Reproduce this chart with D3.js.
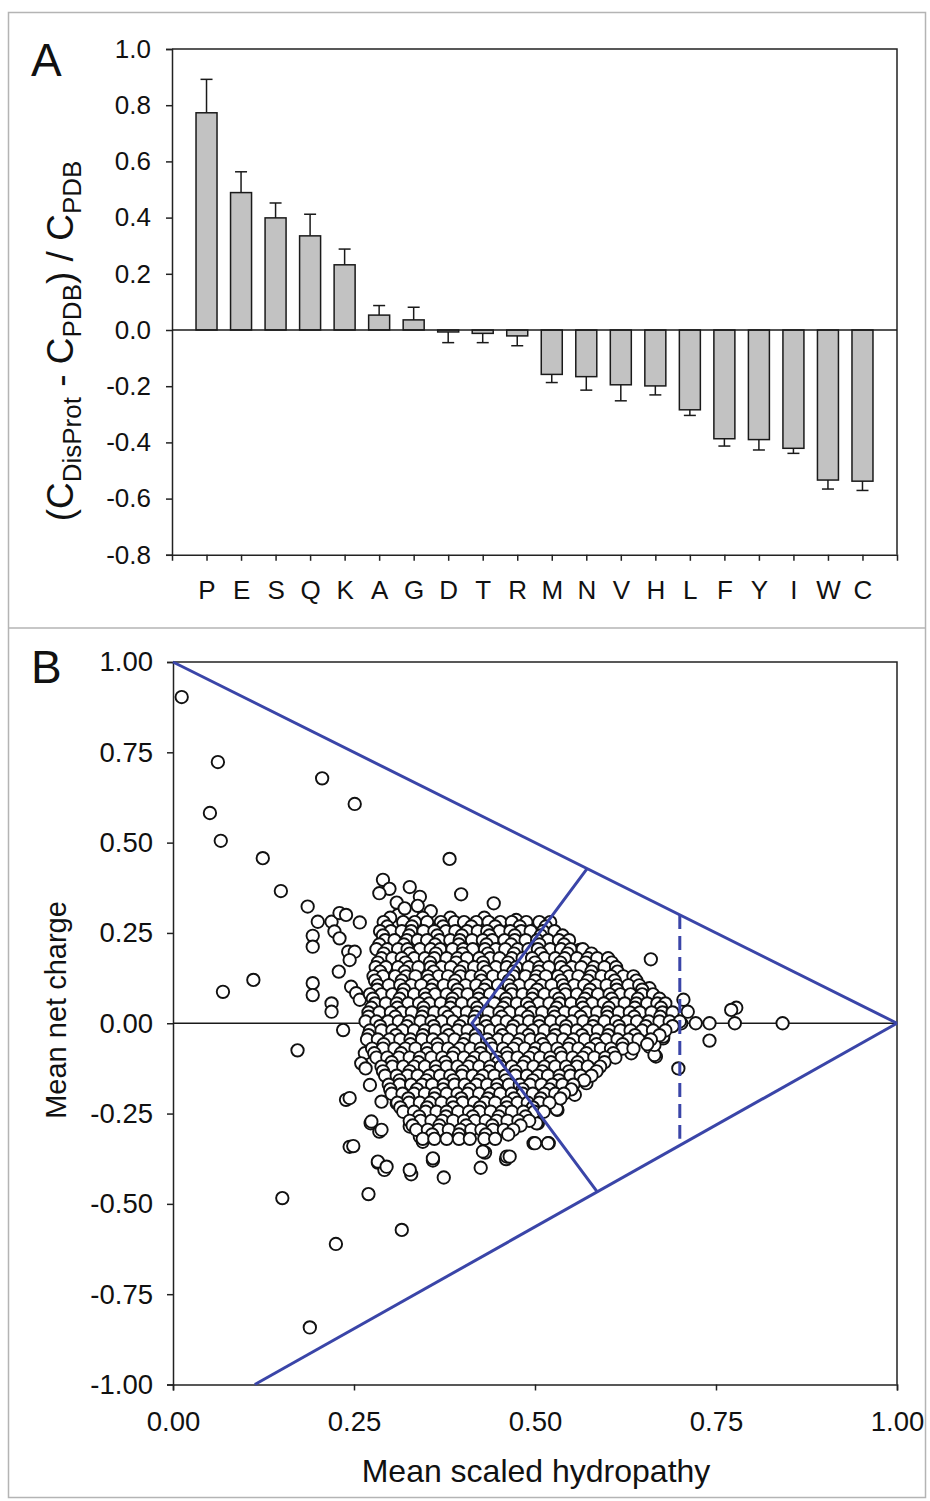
<!DOCTYPE html>
<html>
<head>
<meta charset="utf-8">
<script src="https://cdn.jsdelivr.net/npm/d3@7"></script>
<style>
  body { margin: 0; background: #fff; }
  svg text { font-family: "Liberation Sans", Arial, sans-serif; fill: #111; }
  .axis path, .axis line { stroke: #222; stroke-width: 1.5; }
  .axis text { font-size: 26px; }
  .axisB text { font-size: 27.5px; }
</style>
</head>
<body>
<svg id="fig" width="930" height="1501"></svg>
<script>
// ---- panel A data (amino acids, sorted by disorder propensity)
const residues = ["P","E","S","Q","K","A","G","D","T","R","M","N","V","H","L","F","Y","I","W","C"];
const propensity = [0.773, 0.489, 0.399, 0.335, 0.232, 0.053, 0.036, -0.007, -0.012, -0.021,
  -0.158, -0.166, -0.195, -0.199, -0.284, -0.387, -0.390, -0.421, -0.534, -0.538];
// end of the (one sided) error bar
const errorEnd = [0.892, 0.563, 0.452, 0.412, 0.288, 0.087, 0.081, -0.045, -0.045, -0.056,
  -0.187, -0.214, -0.252, -0.231, -0.304, -0.413, -0.427, -0.439, -0.566, -0.571];
const aTicks = [-0.8, -0.6, -0.4, -0.2, 0, 0.2, 0.4, 0.6, 0.8, 1.0];
const aTickLabels = ["-0.8", "-0.6", "-0.4", "-0.2", "0.0", "0.2", "0.4", "0.6", "0.8", "1.0"];

// ---- panel B data (charge-hydropathy plot), [hydropathy, net charge]
const scatterOutliers = [
  [0.012,0.903],[0.062,0.723],[0.051,0.582],[0.066,0.505],[0.206,0.678],[0.251,0.607],[0.124,0.457],
  [0.149,0.366],[0.382,0.455],[0.398,0.357],[0.186,0.323],[0.069,0.087],[0.111,0.12],[0.235,-0.019],
  [0.172,-0.075],[0.193,0.242],[0.193,0.212],[0.193,0.111],[0.193,0.078],[0.200,0.281],[0.219,0.281],
  [0.223,0.254],[0.230,0.235],[0.230,0.305],[0.239,0.30],[0.258,0.279],[0.242,0.198],[0.251,0.198],
  [0.244,0.175],[0.229,0.143],[0.219,0.055],[0.219,0.032],[0.246,0.101],[0.253,0.083],[0.258,0.065],
  [0.151,-0.484],[0.225,-0.611],[0.316,-0.572],[0.189,-0.842],[0.27,-0.473],[0.239,-0.212],[0.244,-0.342],
  [0.283,-0.386],[0.292,-0.406],[0.329,-0.418],[0.359,-0.38],[0.374,-0.427],[0.425,-0.40],[0.431,-0.358],
  [0.46,-0.376],[0.498,-0.332],[0.519,-0.332],[0.531,-0.24],[0.273,-0.277],[0.285,-0.30],[0.504,-0.277],
  [0.29,0.397],[0.299,0.372],[0.285,0.36],[0.309,0.334],[0.327,0.377],[0.341,0.35],[0.311,0.30],
  [0.31,0.267],[0.443,0.332],[0.474,0.286],[0.465,0.249],[0.493,0.24],[0.506,0.235],[0.516,0.212],
  [0.562,0.203],[0.543,0.184],[0.599,0.161],[0.608,0.12],[0.32,0.318],[0.338,0.325],[0.356,0.31],
  [0.66,0.177],[0.698,-0.125],[0.842,0],[0.776,0],[0.778,0.043],[0.771,0.037],[0.741,0],[0.741,-0.048],
  [0.722,0],[0.705,0.065],[0.711,0.032],[0.702,0],[0.685,0],[0.677,-0.042],[0.667,-0.092],[0.658,-0.065],
  [0.672,0.06],[0.658,0.097],[0.53,-0.203],[0.555,-0.198],[0.571,-0.166],[0.585,-0.125],[0.633,-0.083],
  [0.642,0.06],[0.624,0.083],[0.612,0.083],[0.60,0.097],
  [0.265,-0.083],[0.26,-0.111],[0.266,-0.125],[0.272,-0.171],[0.288,-0.217],[0.274,-0.272],[0.288,-0.295],
  [0.249,-0.34],[0.244,-0.207],[0.283,-0.383],[0.295,-0.397],[0.327,-0.406],[0.359,-0.374],[0.327,-0.286],
  [0.345,-0.328],[0.341,-0.314],[0.40,-0.314],[0.428,-0.355],[0.461,-0.369],[0.433,-0.286],[0.299,-0.125],
  [0.313,-0.18],[0.309,-0.221],[0.285,-0.055],[0.281,-0.005],
  [0.53,-0.238],[0.502,-0.277],[0.50,-0.332],[0.518,-0.332],[0.465,-0.369],[0.546,-0.166],[0.665,-0.088],
  [0.665,-0.06],[0.677,-0.037]
];

// the dense cloud, read row by row (net charge level + hydropathy values)
const cloudRows = [
  { c: 0.292, h: [0.30,0.345,0.383,0.43] },
  { c: 0.28,  h: [0.291,0.318,0.334,0.351,0.37,0.389,0.402,0.419,0.436,0.452,0.468,0.488,0.506,0.521] },
  { c: 0.268, h: [0.296,0.33,0.373,0.412,0.445,0.479,0.515] },
  { c: 0.255, h: [0.286,0.301,0.316,0.329,0.346,0.361,0.377,0.39,0.406,0.421,0.434,0.451,0.466,0.481,0.494,0.511,0.527] },
  { c: 0.243, h: [0.29,0.326,0.365,0.399,0.437,0.472,0.508,0.538] },
  { c: 0.23,  h: [0.293,0.306,0.323,0.338,0.351,0.368,0.383,0.396,0.413,0.428,0.441,0.458,0.472,0.487,0.503,0.518,0.533,0.547] },
  { c: 0.218, h: [0.285,0.319,0.362,0.395,0.433,0.467,0.506,0.54] },
  { c: 0.205, h: [0.281,0.296,0.311,0.324,0.341,0.356,0.369,0.386,0.401,0.414,0.431,0.446,0.459,0.476,0.491,0.504,0.521,0.536,0.549,0.566] },
  { c: 0.193, h: [0.291,0.327,0.363,0.4,0.435,0.471,0.508,0.545,0.578] },
  { c: 0.18,  h: [0.288,0.303,0.316,0.333,0.348,0.361,0.378,0.393,0.406,0.423,0.438,0.451,0.468,0.483,0.496,0.513,0.528,0.541,0.558,0.573,0.586,0.601] },
  { c: 0.168, h: [0.283,0.321,0.355,0.391,0.428,0.463,0.5,0.535,0.57,0.606] },
  { c: 0.155, h: [0.28,0.294,0.311,0.326,0.339,0.356,0.371,0.384,0.401,0.416,0.429,0.446,0.461,0.474,0.491,0.506,0.519,0.536,0.551,0.564,0.581,0.596,0.612] },
  { c: 0.143, h: [0.286,0.32,0.36,0.396,0.433,0.47,0.505,0.542,0.578,0.614] },
  { c: 0.13,  h: [0.277,0.29,0.307,0.322,0.335,0.352,0.367,0.38,0.397,0.412,0.425,0.442,0.457,0.47,0.487,0.502,0.515,0.532,0.547,0.56,0.577,0.592,0.605,0.622,0.636] },
  { c: 0.118, h: [0.279,0.316,0.353,0.39,0.426,0.464,0.5,0.536,0.573,0.61,0.64] },
  { c: 0.105, h: [0.283,0.298,0.314,0.329,0.343,0.359,0.374,0.388,0.404,0.419,0.433,0.449,0.464,0.478,0.494,0.509,0.523,0.539,0.554,0.568,0.584,0.599,0.613,0.629,0.644] },
  { c: 0.093, h: [0.282,0.319,0.357,0.393,0.43,0.467,0.503,0.541,0.576,0.613,0.648] },
  { c: 0.08,  h: [0.272,0.288,0.303,0.317,0.333,0.348,0.362,0.378,0.393,0.407,0.423,0.438,0.452,0.468,0.483,0.497,0.513,0.528,0.542,0.558,0.573,0.587,0.603,0.618,0.632,0.648,0.663] },
  { c: 0.068, h: [0.276,0.313,0.349,0.386,0.422,0.46,0.496,0.533,0.569,0.606,0.642,0.672] },
  { c: 0.055, h: [0.279,0.294,0.309,0.325,0.34,0.354,0.37,0.385,0.399,0.415,0.43,0.444,0.46,0.475,0.489,0.505,0.52,0.534,0.55,0.565,0.579,0.595,0.61,0.624,0.64,0.655,0.669,0.68] },
  { c: 0.043, h: [0.274,0.31,0.346,0.383,0.42,0.456,0.492,0.53,0.566,0.602,0.638,0.674] },
  { c: 0.03,  h: [0.27,0.285,0.301,0.316,0.33,0.346,0.361,0.375,0.391,0.406,0.42,0.436,0.451,0.465,0.481,0.496,0.51,0.526,0.541,0.555,0.571,0.586,0.6,0.616,0.631,0.645,0.661,0.676,0.69] },
  { c: 0.018, h: [0.27,0.307,0.344,0.38,0.417,0.454,0.49,0.527,0.563,0.6,0.637,0.673] },
  { c: 0.005, h: [0.266,0.281,0.297,0.312,0.326,0.342,0.357,0.371,0.387,0.402,0.416,0.432,0.447,0.461,0.477,0.492,0.506,0.522,0.537,0.551,0.567,0.582,0.596,0.612,0.627,0.641,0.657,0.672,0.686,0.70] },
  { c: -0.008, h: [0.286,0.323,0.36,0.396,0.433,0.47,0.506,0.543,0.58,0.616,0.653,0.69] },
  { c: -0.02, h: [0.272,0.288,0.303,0.317,0.333,0.348,0.362,0.378,0.393,0.407,0.423,0.438,0.452,0.468,0.483,0.497,0.513,0.528,0.542,0.558,0.573,0.587,0.603,0.618,0.632,0.648,0.663,0.68] },
  { c: -0.033, h: [0.27,0.308,0.345,0.381,0.418,0.455,0.491,0.528,0.565,0.601,0.638,0.672] },
  { c: -0.045, h: [0.268,0.283,0.299,0.314,0.328,0.344,0.359,0.373,0.389,0.404,0.418,0.434,0.449,0.463,0.479,0.494,0.508,0.524,0.539,0.553,0.569,0.584,0.598,0.614,0.629,0.643,0.66] },
  { c: -0.058, h: [0.291,0.328,0.365,0.401,0.438,0.475,0.511,0.548,0.585,0.621,0.655] },
  { c: -0.07, h: [0.275,0.29,0.306,0.321,0.335,0.351,0.366,0.38,0.396,0.411,0.425,0.441,0.456,0.47,0.486,0.501,0.515,0.531,0.546,0.56,0.576,0.591,0.605,0.621,0.636] },
  { c: -0.083, h: [0.278,0.315,0.351,0.388,0.425,0.461,0.498,0.535,0.571,0.608] },
  { c: -0.095, h: [0.281,0.296,0.312,0.327,0.341,0.357,0.372,0.386,0.402,0.417,0.431,0.447,0.462,0.476,0.492,0.507,0.521,0.537,0.552,0.566,0.582,0.597,0.611] },
  { c: -0.108, h: [0.302,0.339,0.376,0.412,0.449,0.486,0.522,0.559,0.596] },
  { c: -0.12, h: [0.288,0.303,0.318,0.333,0.348,0.363,0.378,0.393,0.408,0.423,0.438,0.453,0.468,0.483,0.498,0.513,0.528,0.543,0.558,0.573,0.59] },
  { c: -0.133, h: [0.29,0.327,0.363,0.4,0.437,0.473,0.51,0.547,0.585] },
  { c: -0.145, h: [0.293,0.309,0.324,0.338,0.354,0.369,0.383,0.399,0.414,0.428,0.444,0.459,0.473,0.489,0.504,0.518,0.534,0.549,0.563,0.578] },
  { c: -0.158, h: [0.313,0.35,0.387,0.423,0.46,0.497,0.533,0.568] },
  { c: -0.17, h: [0.298,0.313,0.329,0.344,0.358,0.374,0.389,0.403,0.419,0.434,0.448,0.464,0.479,0.493,0.509,0.524,0.538,0.553] },
  { c: -0.183, h: [0.3,0.337,0.373,0.41,0.447,0.483,0.52,0.55] },
  { c: -0.195, h: [0.302,0.317,0.333,0.348,0.362,0.378,0.393,0.407,0.423,0.438,0.452,0.468,0.483,0.497,0.513,0.528,0.54] },
  { c: -0.208, h: [0.325,0.361,0.398,0.435,0.471,0.508,0.535] },
  { c: -0.22, h: [0.31,0.326,0.341,0.355,0.371,0.386,0.4,0.416,0.431,0.445,0.461,0.476,0.49,0.506,0.52] },
  { c: -0.233, h: [0.314,0.351,0.387,0.424,0.461,0.497] },
  { c: -0.245, h: [0.318,0.333,0.349,0.364,0.378,0.394,0.409,0.423,0.439,0.454,0.468,0.484,0.499,0.512] },
  { c: -0.258, h: [0.34,0.377,0.414,0.45,0.487] },
  { c: -0.27, h: [0.327,0.342,0.357,0.372,0.387,0.402,0.417,0.432,0.447,0.462,0.477,0.492] },
  { c: -0.283, h: [0.331,0.368,0.405,0.441,0.48] },
  { c: -0.295, h: [0.336,0.352,0.367,0.381,0.397,0.412,0.426,0.442,0.457,0.47] },
  { c: -0.308, h: [0.358,0.395,0.432,0.463] },
  { c: -0.32, h: [0.345,0.361,0.378,0.395,0.41,0.43,0.445] }
];

// boundary lines of the plot
const upperBoundary = [[0, 1], [1, 0]];
const lowerBoundary = [[0.113, -1], [1, 0]];
const vBoundary = [[0.572, 0.428], [0.413, 0], [0.586, -0.467]];
const dashedBoundary = [[0.70, 0.30], [0.70, -0.32]];

const bTicks = [-1, -0.75, -0.5, -0.25, 0, 0.25, 0.5, 0.75, 1];
const bTickLabels = ["-1.00", "-0.75", "-0.50", "-0.25", "0.00", "0.25", "0.50", "0.75", "1.00"];
const xbTicks = [0, 0.25, 0.5, 0.75, 1];
const xbTickLabels = ["0.00", "0.25", "0.50", "0.75", "1.00"];

const blue = "#3a45a8";
var svg = d3.select("#fig");

// outer frame + divider
svg.append("rect").attr("x", 8.5).attr("y", 12.5).attr("width", 917).attr("height", 1485)
  .attr("fill", "none").attr("stroke", "#b4b4b4").attr("stroke-width", 1.5);
svg.append("line").attr("x1", 8.5).attr("x2", 925.5).attr("y1", 628).attr("y2", 628)
  .attr("stroke", "#b4b4b4").attr("stroke-width", 1.5);

// ================= PANEL A =================
var xA = d3.scalePoint().domain(residues).range([172, 897]).padding(1);
var yA = d3.scaleLinear().domain([-0.8, 1.0]).range([554.8, 49]);

var gA = svg.append("g");

gA.append("g").attr("class", "axis")
  .attr("transform", "translate(172,0)")
  .call(d3.axisLeft(yA).tickValues(aTicks).tickSize(6).tickPadding(15)
    .tickFormat((d, i) => aTickLabels[i]));

gA.append("g").attr("class", "axis")
  .attr("transform", "translate(0,554.8)")
  .call(d3.axisBottom(xA).tickSize(6).tickPadding(20));

// box top/right
gA.append("path").attr("d", "M172,49H897V554.8").attr("fill", "none")
  .attr("stroke", "#222").attr("stroke-width", 1.5);

// bars
var barW = 21;
gA.selectAll(".bar").data(residues).enter().append("rect")
  .attr("class", "bar")
  .attr("x", d => xA(d) - barW / 2)
  .attr("y", (d, i) => Math.min(yA(propensity[i]), yA(0)))
  .attr("width", barW)
  .attr("height", (d, i) => Math.abs(yA(propensity[i]) - yA(0)))
  .attr("fill", "#c2c2c2").attr("stroke", "#1a1a1a").attr("stroke-width", 1.5);

// error bars
var err = gA.selectAll(".err").data(residues).enter().append("g").attr("class", "err");
err.append("line")
  .attr("x1", d => xA(d)).attr("x2", d => xA(d))
  .attr("y1", (d, i) => yA(propensity[i])).attr("y2", (d, i) => yA(errorEnd[i]))
  .attr("stroke", "#1a1a1a").attr("stroke-width", 1.5);
err.append("line")
  .attr("x1", d => xA(d) - 6).attr("x2", d => xA(d) + 6)
  .attr("y1", (d, i) => yA(errorEnd[i])).attr("y2", (d, i) => yA(errorEnd[i]))
  .attr("stroke", "#1a1a1a").attr("stroke-width", 1.5);

// zero line
gA.append("line").attr("x1", 172).attr("x2", 897).attr("y1", yA(0)).attr("y2", yA(0))
  .attr("stroke", "#1a1a1a").attr("stroke-width", 1.5);

// y title with subscripts
var tA = gA.append("text")
  .attr("transform", "translate(73," + 341 + ") rotate(-90)")
  .attr("text-anchor", "middle").attr("font-size", 37);
tA.append("tspan").text("(C");
tA.append("tspan").attr("font-size", 26).attr("dy", 8).text("DisProt");
tA.append("tspan").attr("dy", -8).text(" - C");
tA.append("tspan").attr("font-size", 26).attr("dy", 8).text("PDB");
tA.append("tspan").attr("dy", -8).text(") / C");
tA.append("tspan").attr("font-size", 26).attr("dy", 8).text("PDB");

svg.append("text").attr("x", 31).attr("y", 76).attr("font-size", 46).text("A");

// ================= PANEL B =================
var xB = d3.scaleLinear().domain([0, 1]).range([173, 897]);
var yB = d3.scaleLinear().domain([-1, 1]).range([1384.5, 662]);

var gB = svg.append("g");

gB.append("g").attr("class", "axis axisB")
  .attr("transform", "translate(173,0)")
  .call(d3.axisLeft(yB).tickValues(bTicks).tickSize(6).tickPadding(14)
    .tickFormat((d, i) => bTickLabels[i]));

gB.append("g").attr("class", "axis axisB")
  .attr("transform", "translate(0,1384.5)")
  .call(d3.axisBottom(xB).tickValues(xbTicks).tickSize(6).tickPadding(21)
    .tickFormat((d, i) => xbTickLabels[i]));

gB.append("path").attr("d", "M173,662H897V1384.5").attr("fill", "none")
  .attr("stroke", "#222").attr("stroke-width", 1.5);

// zero line
gB.append("line").attr("x1", 173).attr("x2", 897).attr("y1", yB(0)).attr("y2", yB(0))
  .attr("stroke", "#1a1a1a").attr("stroke-width", 1.5);

// points
var points = scatterOutliers.slice();
cloudRows.forEach(function (row) {
  row.h.forEach(function (h) { points.push([h, row.c]); });
});

gB.selectAll(".pt").data(points).enter().append("circle")
  .attr("class", "pt")
  .attr("cx", d => xB(d[0])).attr("cy", d => yB(d[1]))
  .attr("r", 6.2)
  .attr("fill", "#fff").attr("stroke", "#111").attr("stroke-width", 1.9);

// boundaries
var line = d3.line().x(d => xB(d[0])).y(d => yB(d[1]));
[upperBoundary, lowerBoundary, vBoundary].forEach(function (b) {
  gB.append("path").attr("d", line(b)).attr("fill", "none")
    .attr("stroke", blue).attr("stroke-width", 3);
});
gB.append("path").attr("d", line(dashedBoundary)).attr("fill", "none")
  .attr("stroke", blue).attr("stroke-width", 3).attr("stroke-dasharray", "14,7");

// axis titles
gB.append("text").attr("x", 536).attr("y", 1482).attr("text-anchor", "middle")
  .attr("font-size", 32).text("Mean scaled hydropathy");
gB.append("text").attr("transform", "translate(66,1010) rotate(-90)")
  .attr("text-anchor", "middle").attr("font-size", 29).text("Mean net charge");

svg.append("text").attr("x", 31).attr("y", 683).attr("font-size", 46).text("B");
</script>
</body>
</html>
